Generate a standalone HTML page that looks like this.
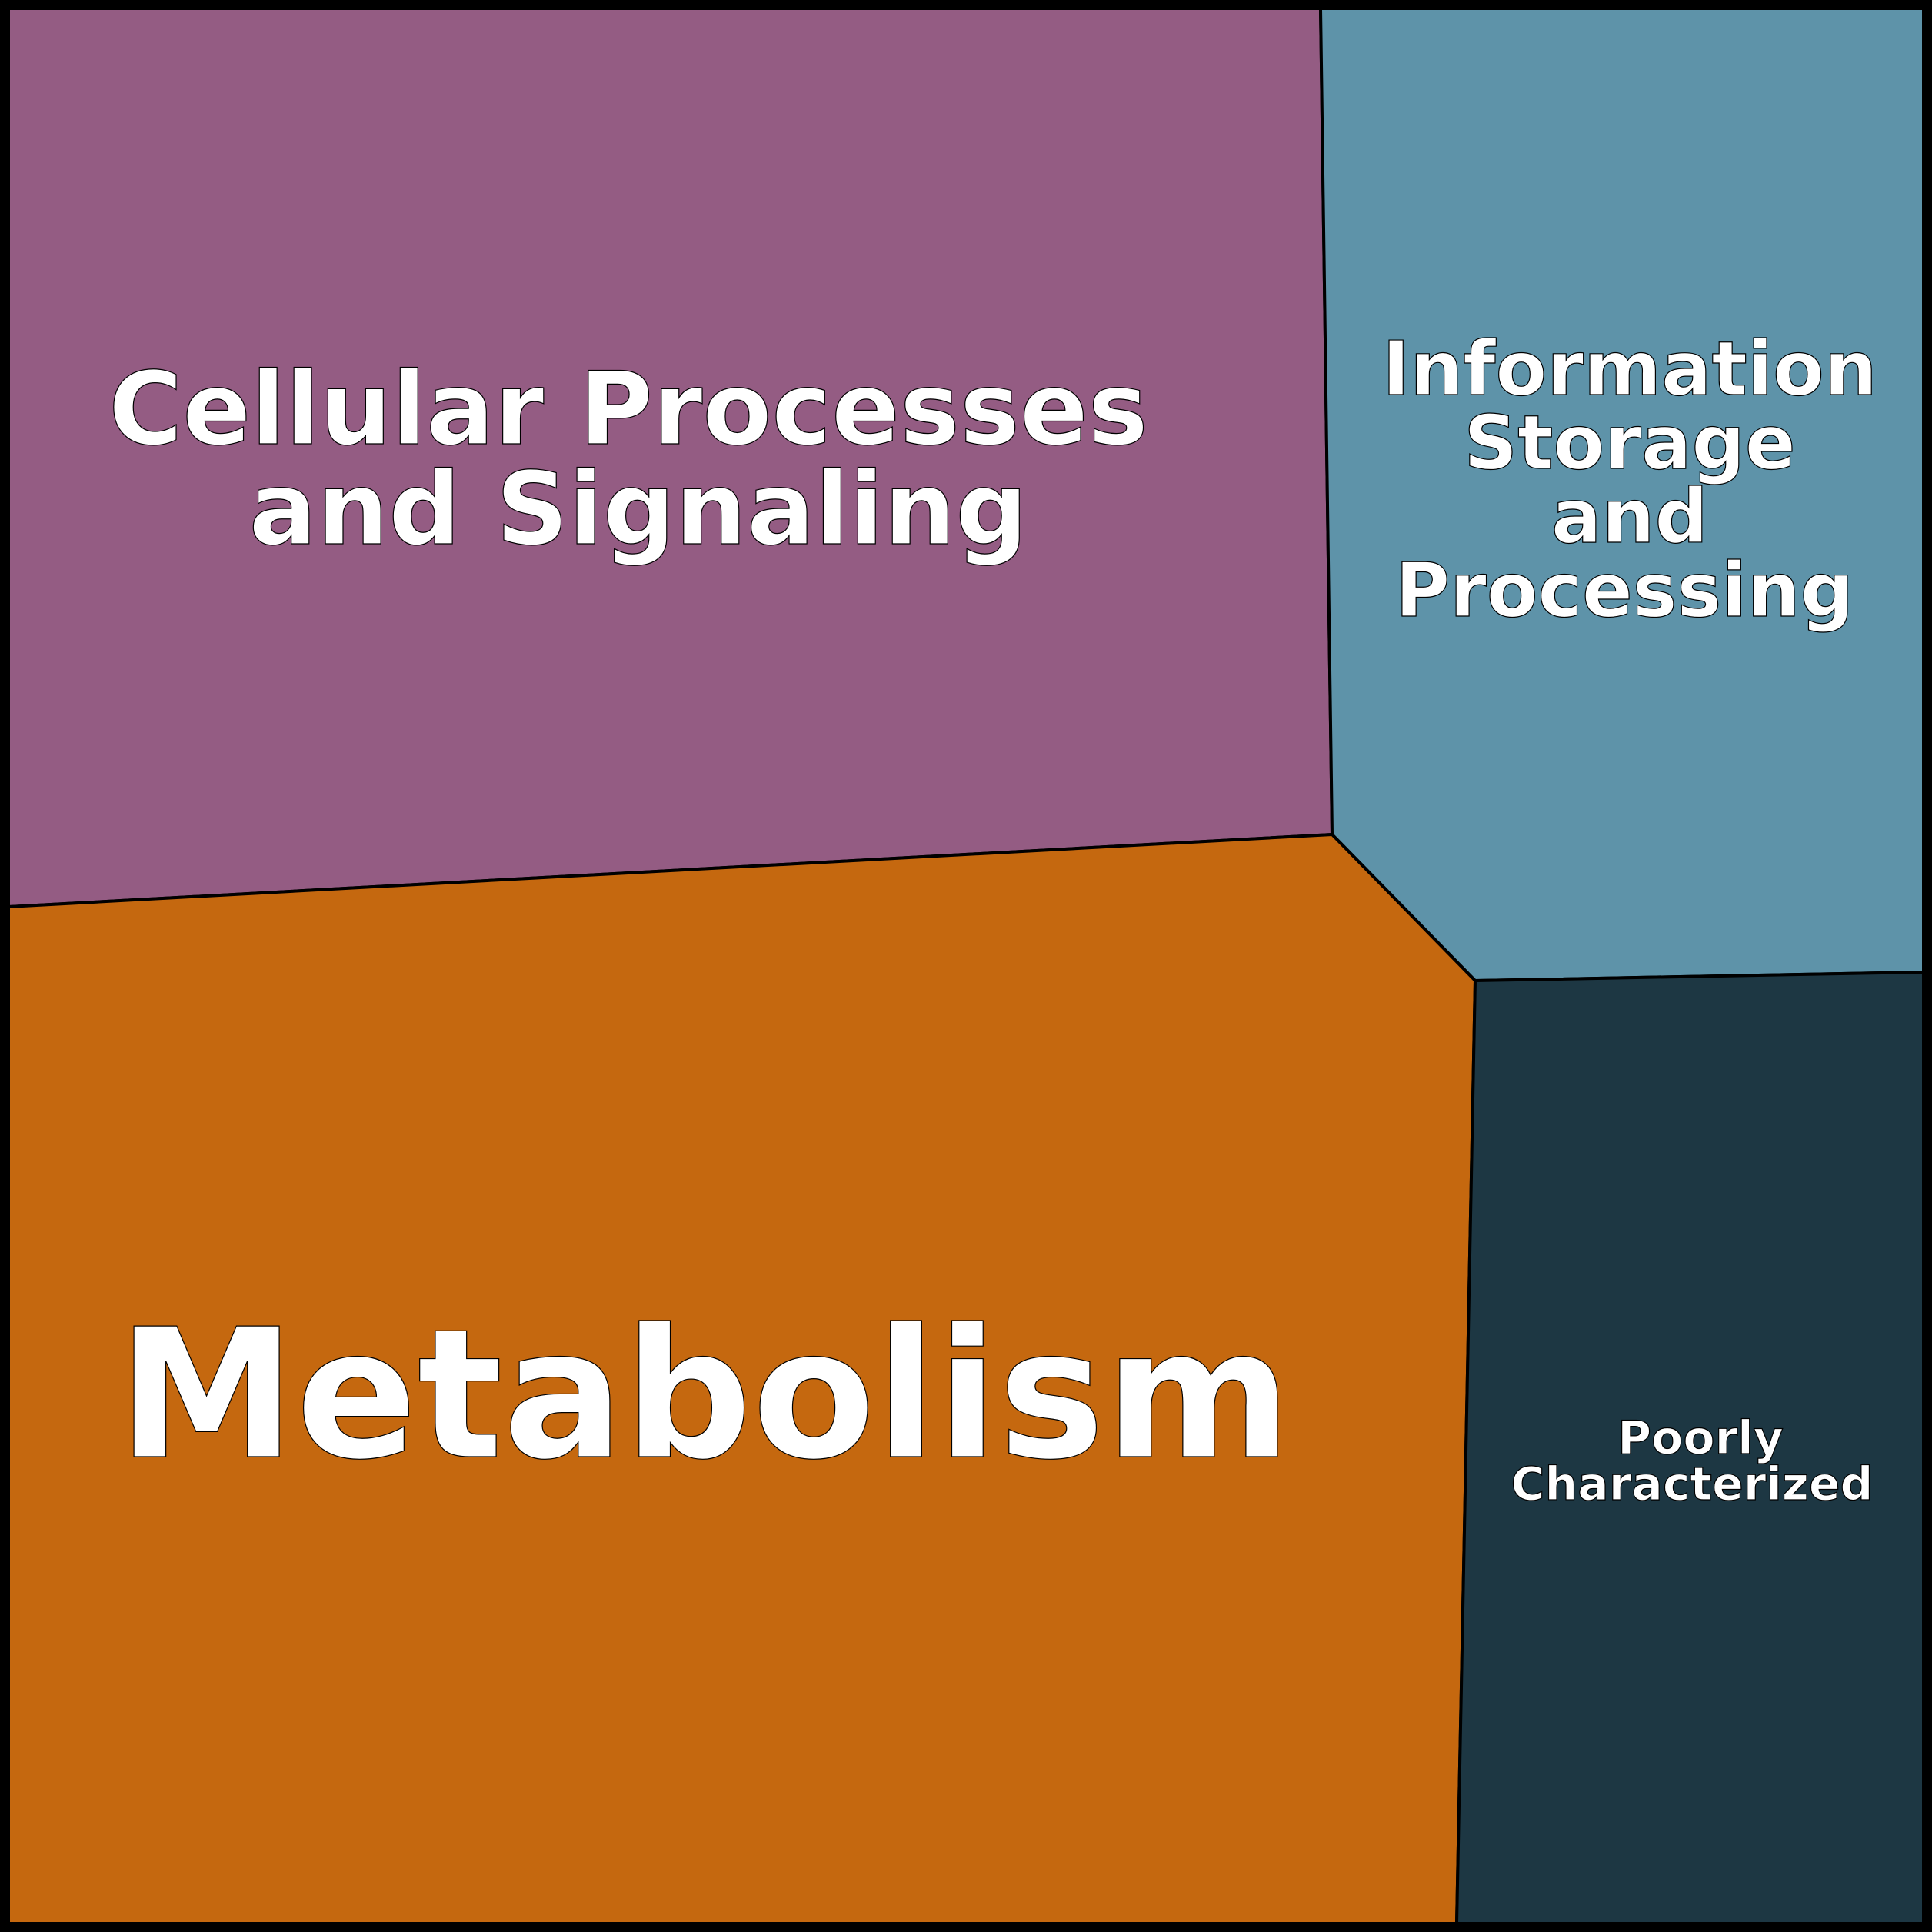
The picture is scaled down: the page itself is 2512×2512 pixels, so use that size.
<!DOCTYPE html>
<html><head><style>html,body{margin:0;padding:0;background:#000}svg{display:block}</style></head>
<body>
<svg width="2512" height="2512" viewBox="0 0 2512 2512" xmlns="http://www.w3.org/2000/svg">
<rect x="0" y="0" width="2512" height="2512" fill="#000"/>
<g stroke="#000" stroke-width="4" stroke-linejoin="round">
<polygon points="11,11 1717,11 1732,1085 11,1179" fill="#945c83"/>
<polygon points="1717,11 2501,11 2501,1264 1918,1275 1732,1085" fill="#5e93a9"/>
<polygon points="11,1179 1732,1085 1918,1275 1894,2501 11,2501" fill="#c5680f"/>
<polygon points="1918,1275 2501,1264 2501,2501 1894,2501" fill="#1d3743"/>
</g>
<g font-family="'DejaVu Sans','Liberation Sans',sans-serif" font-weight="bold" fill="#fff" stroke="#000" stroke-width="1.2" text-anchor="middle">
<text x="817" y="577" font-size="131">Cellular Processes</text>
<text x="830" y="707" font-size="131">and Signaling</text>
<text x="916" y="1894" font-size="233">Metabolism</text>
<text x="2119" y="513" font-size="97">Information</text>
<text x="2119" y="609" font-size="97">Storage</text>
<text x="2119" y="705" font-size="97">and</text>
<text x="2112" y="801" font-size="97">Processing</text>
<text x="2211" y="1890" font-size="60">Poorly</text>
<text x="2200" y="1950" font-size="60">Characterized</text>
</g>
</svg>
</body></html>
